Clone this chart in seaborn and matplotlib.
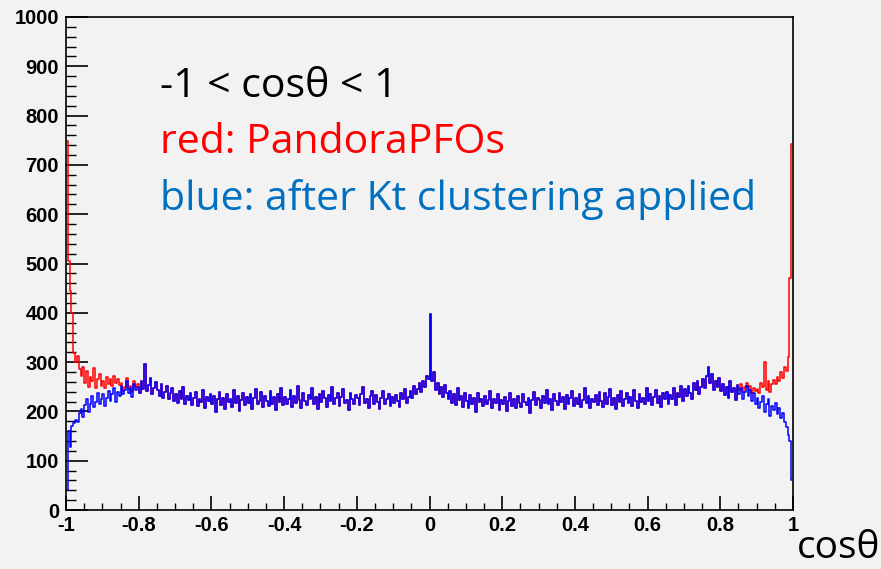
import numpy as np
import pandas as pd
import seaborn as sns
import matplotlib.pyplot as plt
from matplotlib.ticker import MultipleLocator

# cos(theta) histogram, 400 bins of width 0.005 between -1 and 1
bin_edges = [round(-1 + 0.005 * i, 3) for i in range(401)]

# blue: after Kt clustering applied (counts per bin)
blue_counts = [
    40, 160, 128, 170, 176, 182, 178, 196, 205, 188,
    212, 226, 198, 215, 232, 208, 220, 238, 214, 226,
    235, 210, 228, 242, 222, 236, 248, 219, 240, 232,
    252, 236, 244, 262, 238, 248, 229, 255, 243, 250,
    238, 262, 246, 296, 241, 254, 268, 236, 248, 259,
    244, 232, 256, 228, 240, 251, 226, 238, 247, 222,
    236, 218, 241, 226, 249, 215, 232, 224, 238, 212,
    228, 240, 210, 226, 219, 244, 206, 230, 221, 235,
    214, 232, 198, 225, 240, 212, 228, 204, 236, 219,
    226, 209, 243, 218, 231, 200, 224, 238, 213, 229,
    217, 235, 205, 228, 246, 214, 222, 239, 208, 231,
    222, 210, 241, 216, 229, 203, 236, 220, 248, 212,
    230, 215, 226, 244, 209, 232, 218, 251, 224, 206,
    238, 221, 212, 234, 226, 247, 215, 229, 204, 236,
    219, 242, 227, 208, 233, 221, 250, 214, 228, 237,
    211, 229, 245, 218, 224, 202, 238, 226, 215, 233,
    227, 212, 236, 249, 218, 226, 207, 231, 242, 216,
    233, 220, 205, 228, 241, 214, 225, 236, 210, 229,
    218, 234, 222, 209, 238, 226, 245, 217, 230, 241,
    228, 252, 236, 246, 258, 240, 262, 250, 272, 266,
    398, 262, 280, 244, 258, 236, 249, 230, 254, 238,
    226, 242, 218, 235, 212, 247, 224, 231, 209, 238,
    221, 206, 234, 215, 228, 199, 237, 219, 226, 210,
    232, 214, 223, 241, 207, 226, 218, 235, 203, 224,
    215, 229, 201, 222, 238, 211, 226, 206, 232, 218,
    209, 235, 220, 213, 227, 196, 224, 240, 212, 228,
    223, 207, 231, 218, 244, 214, 226, 203, 235, 221,
    212, 238, 219, 229, 205, 233, 216, 227, 242, 210,
    228, 215, 236, 209, 224, 247, 218, 231, 206, 225,
    219, 233, 212, 240, 221, 208, 237, 216, 229, 245,
    213, 227, 205, 234, 219, 242, 210, 225, 238, 217,
    230, 211, 244, 222, 207, 236, 219, 228, 214, 247,
    221, 236, 212, 229, 243, 218, 232, 209, 238, 225,
    240, 216, 233, 226, 248, 212, 237, 229, 251, 222,
    245, 231, 252, 238, 226, 257, 243, 262, 236, 250,
    266, 248, 272, 290, 258, 276, 244, 262, 250, 268,
    241, 256, 233, 250, 228, 262, 239, 247, 224, 254,
    236, 248, 226, 240, 252, 231, 244, 222, 238, 215,
    228, 206, 219, 232, 198, 214, 225, 190, 211, 202,
    218, 194, 207, 186, 196, 178, 168, 152, 140, 60,
]

# red: PandoraPFOs, differs from blue mostly near the edges
red_left = [
    748, 505, 445, 400, 318, 300, 312, 285, 272, 290,
    258, 282, 250, 270, 262, 288, 248, 266, 275, 252,
    262, 248, 270, 256, 265, 252, 271, 258, 266, 254,
    258, 242, 250, 268, 246, 252, 240, 262, 250, 256,
]
red_right = [
    244, 256, 240, 250, 258, 246, 252, 238, 248, 242,
    246, 238, 258, 250, 300, 244, 262, 240, 256, 264,
    255, 270, 262, 280, 268, 290, 282, 310, 470, 742,
]
red_counts = red_left + blue_counts[40:370] + red_right

y_ticks = list(range(0, 1001, 100))
x_ticks = [-1, -0.8, -0.6, -0.4, -0.2, 0, 0.2, 0.4, 0.6, 0.8, 1]
x_tick_labels = ["-1", "-0.8", "-0.6", "-0.4", "-0.2", "0", "0.2", "0.4", "0.6", "0.8", "1"]

centers = (np.array(bin_edges[:-1]) + np.array(bin_edges[1:])) / 2
df = pd.DataFrame({"cos_theta": centers, "red": red_counts, "blue": blue_counts})

bg = "#f2f2f2"
fig = plt.figure(figsize=(8.81, 5.69), dpi=100, facecolor=bg)
ax = fig.add_axes([66 / 881, 1 - 510 / 569, (793 - 66) / 881, (510 - 17) / 569])
ax.set_facecolor(bg)

sns.histplot(data=df, x="cos_theta", weights="red", bins=bin_edges, element="step",
             fill=False, color="#ff0000", linewidth=1.1, ax=ax)
sns.histplot(data=df, x="cos_theta", weights="blue", bins=bin_edges, element="step",
             fill=False, color="#0000ff", linewidth=1.1, ax=ax)

ax.set_xlim(-1, 1)
ax.set_ylim(0, 1000)
ax.set_xlabel("")
ax.set_ylabel("")
ax.set_xticks(x_ticks)
ax.set_xticklabels(x_tick_labels)
ax.set_yticks(y_ticks)
ax.xaxis.set_minor_locator(MultipleLocator(0.05))
ax.yaxis.set_minor_locator(MultipleLocator(20))
ax.tick_params(axis="y", which="major", direction="in", length=16, width=1.2, pad=5)
ax.tick_params(axis="y", which="minor", direction="in", length=7.5, width=1.0)
ax.tick_params(axis="x", which="major", direction="in", length=10, width=1.2, pad=4)
ax.tick_params(axis="x", which="minor", direction="in", length=5, width=1.0)
for lab in ax.get_xticklabels() + ax.get_yticklabels():
    lab.set_fontweight("bold")
    lab.set_fontsize(14.5)
    lab.set_family("Liberation Sans")
for sp in ax.spines.values():
    sp.set_color("black")
    sp.set_linewidth(1.2)

txt_font = ["Open Sans", "DejaVu Sans"]
fig.text(160 / 881, 1 - 87 / 569, "-1 < cosθ < 1", color="black", fontsize=29.5,
         family=txt_font, va="center", ha="left")
fig.text(160 / 881, 1 - 143 / 569, "red: PandoraPFOs", color="#ff0000", fontsize=29.5,
         family=txt_font, va="center", ha="left")
fig.text(160 / 881, 1 - 200 / 569, "blue: after Kt clustering applied", color="#0070c0",
         fontsize=29.5, family=txt_font, va="center", ha="left")
fig.text(880 / 881, 1 - 548 / 569, "cosθ", color="black", fontsize=28,
         family=txt_font, va="center", ha="right")

fig.savefig("out.png", dpi=100, facecolor=bg)
